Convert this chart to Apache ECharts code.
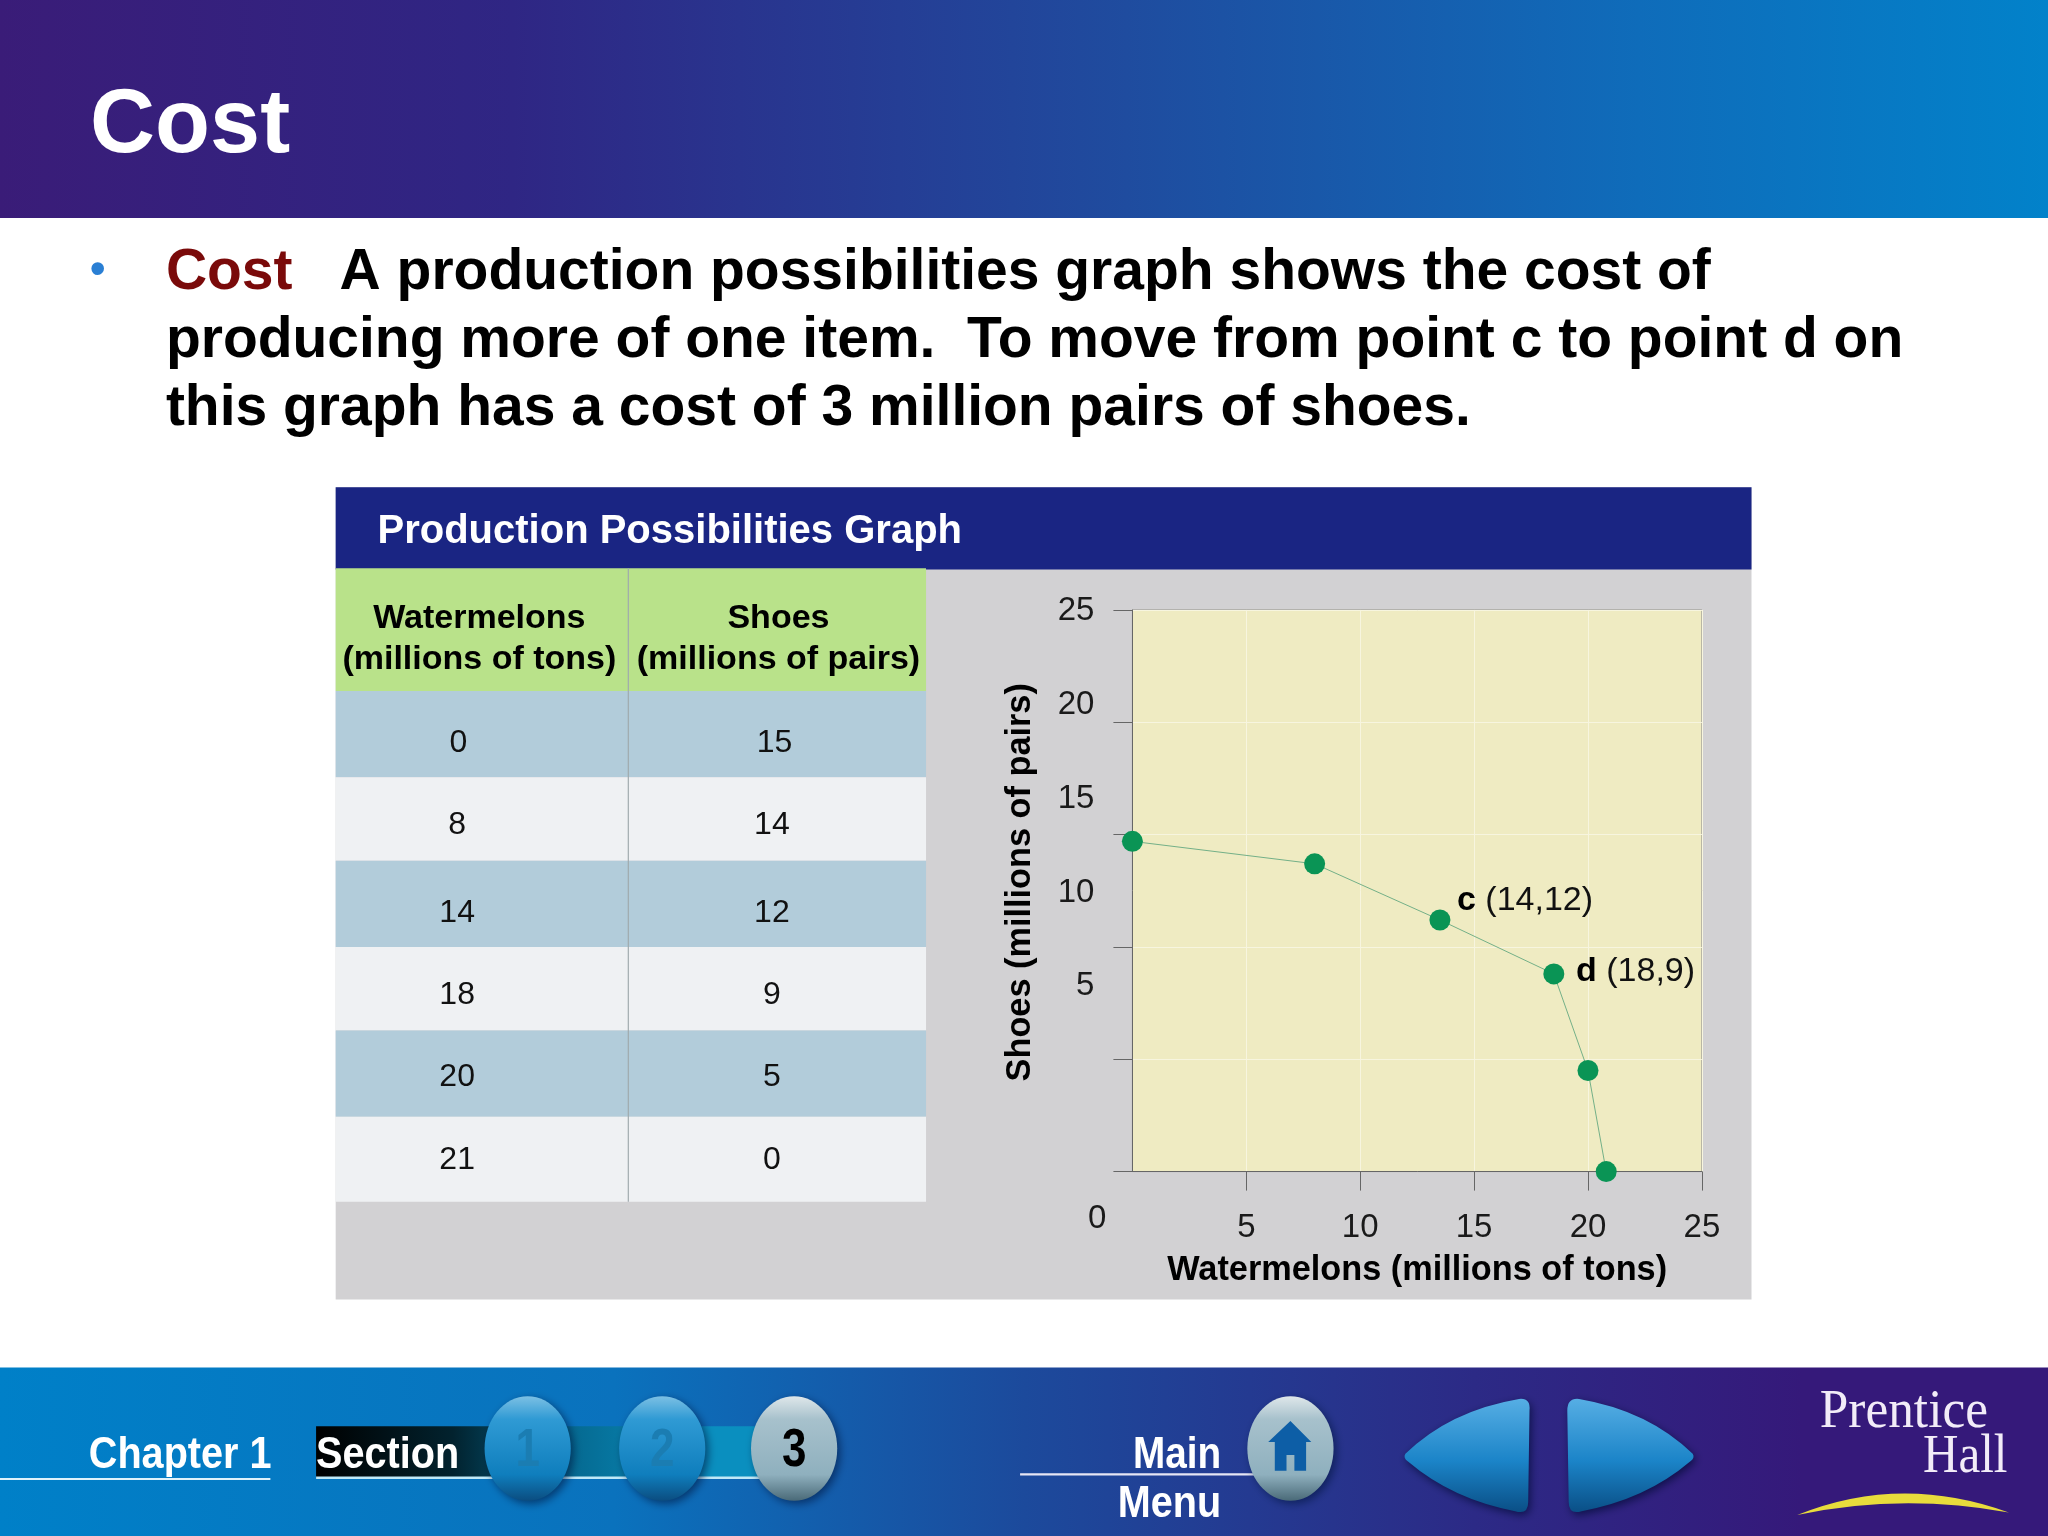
<!DOCTYPE html>
<html>
  <meta charset="UTF-8">
  <title>Cost</title>
  <style type="text/css">
    html,body{margin:0px;height:100%;width:100%;background:#fff}
    #chart{width:2048px;height:1536px}
  </style>
  <script type="text/javascript" src="https://cdn.jsdelivr.net/npm/echarts@6/dist/echarts.min.js"></script>
  <body>
    <div id="chart"></div>

    <script>
      // table values
      var tableWatermelons = ['0', '8', '14', '18', '20', '21'];
      var tableShoes = ['15', '14', '12', '9', '5', '0'];
      // plotted points, as they sit on the graph
      var pointsWatermelons = [0, 8, 13.5, 18.5, 20, 20.8];
      var pointsShoes = [14.7, 13.7, 11.2, 8.8, 4.5, 0];
      var pointLabels = ['', '', 'c', 'd', '', ''];
      var pointCoords = ['', '', '(14,12)', '(18,9)', '', ''];
      var axisTicks = [0, 5, 10, 15, 20, 25];

      // layout was measured on a 1568 wide copy, this brings it to 2048
      function s(v) { return v * 2048 / 1568; }

      var SANS = '"Liberation Sans", Arial, sans-serif';
      var SERIF = '"Liberation Serif", serif';

      function txt(str, x, y, size, opts) {
        opts = opts || {};
        var ax = opts.align || 'left';
        return {
          type: 'text', z: opts.z || 5, x: s(x), y: s(y),
          scaleX: opts.scaleX || 1, scaleY: opts.scaleY || 1,
          style: {
            text: str, x: 0, y: 0, fontSize: size, fontFamily: opts.family || SANS,
            fontWeight: opts.weight || 'normal', fill: opts.fill || '#000',
            align: ax, textAlign: ax, verticalAlign: 'middle', textVerticalAlign: 'middle'
          }
        };
      }
      function box(x, y, w, h, fill, z) {
        return { type: 'rect', z: z === undefined ? -10 : z, shape: { x: s(x), y: s(y), width: s(w), height: s(h) }, style: { fill: fill } };
      }
      function hgrad(stops) {
        return new echarts.graphic.LinearGradient(0, 0, 1, 0, stops.map(function (p) { return { offset: p[0], color: p[1] }; }));
      }
      function vgrad(stops) {
        return new echarts.graphic.LinearGradient(0, 0, 0, 1, stops.map(function (p) { return { offset: p[0], color: p[1] }; }));
      }
      function button(cx, cy, stops) {
        return { type: 'ellipse', z: 3, shape: { cx: s(cx), cy: s(cy), rx: s(33), ry: s(40) },
          style: { fill: vgrad(stops), shadowBlur: 8, shadowColor: 'rgba(0,20,60,.6)', shadowOffsetX: 3, shadowOffsetY: 3 } };
      }
      // the graphic component has no path type, so each outline gets registered as a shape
      var pathCount = 0;
      function path(d, fill, z, shadow) {
        var name = 'outline' + (pathCount++);
        var scaled = d.replace(/-?\d+(\.\d+)?/g, function (n) { return s(+n).toFixed(1); });
        echarts.graphic.registerShape(name, echarts.graphic.extendPath(scaled, {}));
        var style = { fill: fill };
        if (shadow) {
          style.shadowBlur = 8;
          style.shadowColor = 'rgba(0,10,50,.7)';
          style.shadowOffsetX = 2;
          style.shadowOffsetY = 3;
        }
        return { type: name, z: z || 3, style: style };
      }

      var blueBtn = [[0, '#7cc0e4'], [0.22, '#2f9ad4'], [0.75, '#0f7ebd'], [1, '#0b4d80']];
      var greyBtn = [[0, '#dfe7ea'], [0.22, '#a7c1cc'], [0.75, '#8fb0be'], [1, '#4a6a78']];
      var arrowFill = [[0, '#56aee4'], [0.55, '#1b84c8'], [1, '#0a4f86']];

      var rowTops = [529, 595, 659, 725, 789, 855];
      var rowBottoms = [595, 659, 725, 789, 855, 920];
      var rowTextY = [569, 632, 699, 762, 825, 888];
      var colTextX = [350, 591];

      var elements = [
        // header band
        box(0, 0, 1568, 167, hgrad([[0, '#3a1c78'], [0.25, '#2f2684'], [0.55, '#1f4c9f'], [0.8, '#0f6cba'], [1, '#0282ca']])),
        txt('Cost', 69, 97, 90, { weight: 'bold', fill: '#fff' }),
        // bullet text
        txt('\u2022', 69, 207, 44, { fill: '#2a7fd4', weight: 'bold' }),
        txt('Cost', 127, 209, 57, { weight: 'bold', fill: '#7a0a0a' }),
        txt('A production possibilities graph shows the cost of', 260, 209, 57, { weight: 'bold' }),
        txt('producing more of one item.  To move from point c to point d on', 127, 261, 57, { weight: 'bold' }),
        txt('this graph has a cost of 3 million pairs of shoes.', 127, 313, 57, { weight: 'bold' }),
        // panel
        box(257, 373, 1084, 622, '#d2d1d3'),
        box(257, 373, 1084, 63, '#1a2583'),
        txt('Production Possibilities Graph', 289, 407, 40, { weight: 'bold', fill: '#fff' }),
        box(257, 435, 452, 94, '#b9e28a'),
        txt('Watermelons', 367, 474, 34, { weight: 'bold', align: 'center' }),
        txt('(millions of tons)', 367, 505, 34, { weight: 'bold', align: 'center' }),
        txt('Shoes', 596, 474, 34, { weight: 'bold', align: 'center' }),
        txt('(millions of pairs)', 596, 505, 34, { weight: 'bold', align: 'center' }),
        txt('0', 840, 933, 33, { align: 'center', fill: '#1a1a1a' }),
        // footer
        box(0, 1047, 1568, 129, hgrad([[0, '#0080c8'], [0.3, '#0a72bd'], [0.5, '#1c4a9c'], [0.72, '#2c2a86'], [0.88, '#35197a'], [1, '#35197a']])),
        txt('Chapter 1', 68, 1115, 44, { weight: 'bold', fill: '#fff', scaleX: 0.9 }),
        box(0, 1131.5, 207, 1.6, '#dff2fb', 2),
        box(242, 1092, 348, 40, hgrad([[0, '#000'], [0.3, '#02222e'], [0.55, '#05688f'], [0.85, '#0a8fbf'], [1, '#0a8fbf']]), 2),
        box(242, 1130.5, 348, 1.8, '#bfe8f7', 2),
        txt('Section', 242, 1115, 44, { weight: 'bold', fill: '#fff', z: 4, scaleX: 0.9 }),
        button(404, 1109, blueBtn),
        button(507, 1109, blueBtn),
        button(608, 1109, greyBtn),
        txt('1', 404, 1111, 44, { weight: 'bold', fill: '#1b7db2', align: 'center', scaleY: 1.2 }),
        txt('2', 507, 1111, 44, { weight: 'bold', fill: '#1b7db2', align: 'center', scaleY: 1.2 }),
        txt('3', 608, 1111, 44, { weight: 'bold', fill: '#000', align: 'center', scaleY: 1.2 }),
        txt('Main', 935, 1115, 44, { weight: 'bold', fill: '#fff', align: 'right', scaleX: 0.88 }),
        txt('Menu', 935, 1152, 44, { weight: 'bold', fill: '#fff', align: 'right', scaleX: 0.9 }),
        box(781, 1128, 180, 1.6, '#e6e6f4', 2),
        button(988, 1109, greyBtn),
        path('M 988 1088 L 1004 1104 L 1000 1104 L 1000 1126 L 991 1126 L 991 1114 L 985 1114 L 985 1126 L 976 1126 L 976 1104 L 971 1104 Z', '#0d5ea6', 4),
        // arrows
        path('M 1076 1113 Q 1110 1080 1163 1071 Q 1172 1070 1171 1080 L 1170 1150 Q 1170 1160 1160 1157 Q 1112 1148 1078 1119 Q 1074 1116 1076 1113 Z', vgrad(arrowFill), 3, true),
        path('M 1296 1113 Q 1262 1080 1209 1071 Q 1200 1070 1200 1080 L 1201 1150 Q 1201 1160 1211 1157 Q 1260 1148 1294 1119 Q 1298 1116 1296 1113 Z', vgrad(arrowFill), 3, true),
        // logo
        txt('Prentice', 1522, 1082, 54, { family: SERIF, fill: '#f2ecf8', align: 'right', scaleX: 0.95 }),
        txt('Hall', 1537, 1116, 54, { family: SERIF, fill: '#f2ecf8', align: 'right', scaleX: 0.91 }),
        path('M 1376 1160 Q 1455 1128 1538 1158 Q 1455 1143 1376 1160 Z', '#e8dc3c')
      ];

      // table rows come from the arrays
      tableWatermelons.forEach(function (v, i) {
        elements.push(box(257, rowTops[i], 452, rowBottoms[i] - rowTops[i], i % 2 ? '#eff1f3' : '#b2ccda'));
        elements.push(txt(v, colTextX[0] + (i === 0 ? 1 : 0), rowTextY[i], 32, { align: 'center', fill: '#111' }));
        elements.push(txt(tableShoes[i], colTextX[1] + (i === 0 ? 2 : 0), rowTextY[i], 32, { align: 'center', fill: '#111' }));
      });
      elements.push(box(480.6, 435, 0.9, 485, '#9fa9ad', -9));

      var points = pointsWatermelons.map(function (x, i) {
        var item = { value: [x, pointsShoes[i]] };
        if (pointLabels[i]) {
          item.label = {
            show: true, position: 'right', distance: 0,
            offset: i === 2 ? [s(5), s(-14.5)] : [s(9), s(-1.5)],
            formatter: '{b|' + pointLabels[i] + '} ' + pointCoords[i]
          };
        }
        return item;
      });

      var chart = echarts.init(document.getElementById('chart'));
      chart.setOption({
        animation: false,
        textStyle: { fontFamily: SANS },
        graphic: { elements: elements },
        grid: [
          { left: s(867), top: s(467), width: s(436), height: s(430), show: true, backgroundColor: '#efebc2', borderColor: '#9b9a90', borderWidth: 1 },
          // the y labels in the reference sit on their own spacing, not on the ticks
          { left: s(867), top: s(468), width: s(436), height: s(287) }
        ],
        xAxis: [
          {
            type: 'value', gridIndex: 0, min: 0, max: 25, interval: 5,
            name: 'Watermelons (millions of tons)', nameLocation: 'middle', nameGap: 82,
            nameTextStyle: { fontSize: 34.3, fontWeight: 'bold', color: '#000' },
            axisLine: { onZero: false, lineStyle: { color: '#666', width: 1 } },
            axisTick: { length: 19, lineStyle: { color: '#666', width: 1 } },
            axisLabel: { showMinLabel: false, margin: 40, fontSize: 33, color: '#1a1a1a' },
            splitLine: { show: true, lineStyle: { color: '#f7f5df', width: 1 } }
          },
          { type: 'value', gridIndex: 1, min: 0, max: 25, show: false }
        ],
        yAxis: [
          {
            type: 'value', gridIndex: 0, min: 0, max: 25, interval: 5,
            name: 'Shoes (millions of pairs)', nameLocation: 'middle', nameGap: 95, nameRotate: 90,
            nameTextStyle: { fontSize: 34.3, fontWeight: 'bold', color: '#000', padding: [0, 0, 0, 17] },
            axisLine: { onZero: false, lineStyle: { color: '#666', width: 1 } },
            axisTick: { length: 19, lineStyle: { color: '#666', width: 1 } },
            axisLabel: { show: false },
            splitLine: { show: true, lineStyle: { color: '#f7f5df', width: 1 } }
          },
          {
            type: 'value', gridIndex: 1, min: axisTicks[1], max: axisTicks[5], interval: 5,
            axisLine: { show: false }, axisTick: { show: false }, splitLine: { show: false },
            axisLabel: { margin: 38, fontSize: 33, color: '#1a1a1a' }
          }
        ],
        series: [
          {
            type: 'line', xAxisIndex: 0, yAxisIndex: 0, data: points,
            symbol: 'circle', symbolSize: 21, clip: false,
            itemStyle: { color: '#0a9455' },
            lineStyle: { color: '#74b088', width: 1 },
            label: { show: false, fontSize: 34, color: '#111', rich: { b: { fontSize: 34, fontWeight: 'bold', color: '#000' } } }
          }
        ]
      });
    </script>
  </body>
</html>
